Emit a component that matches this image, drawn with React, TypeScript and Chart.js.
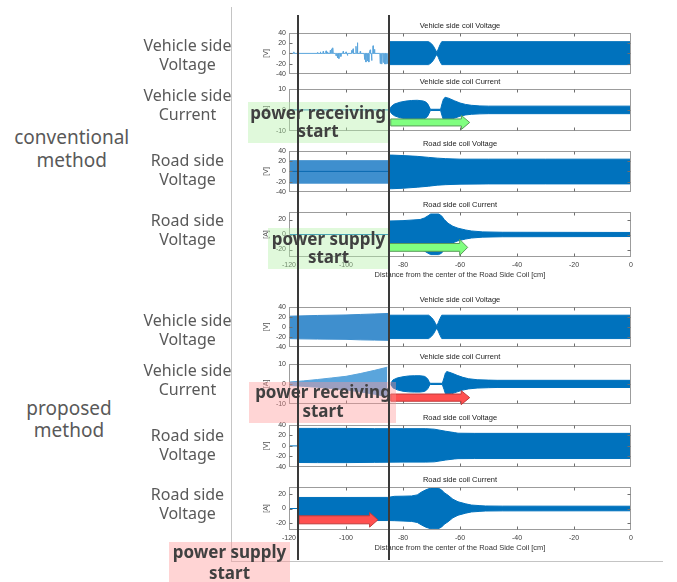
import React, { useEffect, useRef, useState } from 'react';
import { Chart, registerables } from 'chart.js';
Chart.register(...registerables);

// ---------- axes / ticks ----------
const xTicks = [-120, -100, -80, -60, -40, -20, 0];
const voltTicks = [-40, -20, 0, 20, 40];
const vehCurTicks = [-10, 0, 10];
const roadCurTicks = [-20, 0, 20];
const startMarkers = [-116.7, -85];
const xTitle = 'Distance from the center of the Road Side Coil [cm]';

// ---------- conventional: vehicle side voltage ----------
const cvVVSpikeX = [-118.3, -110, -109, -108, -107, -106.5, -105.5, -105, -104.6, -103.5, -103, -102.5, -101.8, -101, -100, -99.5, -98, -97.5, -96.5, -96, -95, -93.5, -93, -92.5, -92, -91.5, -91, -90.5, -90, -88, -87.5, -87, -86.5, -86, -85.5];
const cvVVSpikeY = [3, 2, 3, 4, 5, 3, 6, 9, 11, -5, -9, -10, -6, 4, 3, -4, 6, 9, 14, 21, 4, -12, -17, -15, -17, 7, -14, 15, 8, -20, -21, -18, -21, -21, -20];
const cvVVX = [-85, -71, -70, -69.3, -68.6, -68.1, -67.6, -67, -66.4, 0];
const cvVVUp = [23, 23, 19, 14, 7, 2, 9, 17, 23, 23];
const cvVVLo = [-22, -22, -18, -13, -6, -2, -8, -16, -22, -22];

// ---------- conventional: vehicle side current ----------
const cvVIFlatX = [-120, -84.7];
const cvVIFlatY = [0, 0];
const cvVIX = [-84.7, -84, -83, -81, -79, -77, -75, -73, -72, -71.3, -70.8, -70.4, -66.8, -66.3, -65.8, -65.2, -64, -62, -60, -58, -56, -53, -50, 0];
const cvVIUp = [0.3, 1.8, 2.8, 3.7, 4.2, 4.5, 4.6, 4.3, 3.8, 2.8, 1.5, 0.3, 0.3, 3, 5.2, 6, 5.6, 4.4, 3.3, 2.6, 2.2, 1.9, 1.8, 1.8];
const cvVILo = [-0.3, -1.8, -2.8, -3.8, -4.3, -4.6, -4.7, -4.4, -3.9, -2.9, -1.5, -0.3, -0.3, -2.8, -4.8, -5.3, -5, -4, -3, -2.4, -2.1, -1.9, -1.8, -1.8];

// ---------- conventional: road side voltage ----------
const cvRVCenterX = [-120, -85];
const cvRVCenterY = [0, 0];
const cvRVPreX = [-119.8, -85];
const cvRVPreUp = [21, 21];
const cvRVPreLo = [-23, -23];
const cvRVX = [-85, -84, -80, -75, -71, -68, -65, -60, -50, -30, 0];
const cvRVUp = [32, 32, 31, 29.5, 27.5, 26, 25, 24, 24, 24, 24];
const cvRVLo = [-34, -34, -33, -31, -29, -27, -26, -25, -24.5, -24.5, -24.5];

// ---------- conventional: road side current ----------
const cvRIFlatX = [-120, -85];
const cvRIFlatY = [0, 0];
const cvRIX = [-85, -80, -74, -72.5, -71.2, -70.3, -67.5, -66.5, -65.5, -64.2, -62.5, -60.7, -58, -56, -52, -45, 0];
const cvRIUp = [18, 18.5, 20, 22, 25, 27.3, 27.3, 25, 20, 15, 11, 8.4, 6, 4.7, 3.5, 3, 2.7];
const cvRILo = [-18, -18.5, -20, -22, -25, -26.8, -26.8, -25, -20, -15, -11, -8.4, -6, -4.7, -3.5, -3, -2.7];

// ---------- proposed: vehicle side voltage ----------
const pVVPreX = [-120, -116.7, -110, -100, -95, -90, -85];
const pVVPreUp = [21.5, 22, 23, 24, 25, 26, 27];
const pVVPreLo = [-23.5, -24, -24.5, -25, -26, -26.5, -27];
const pVVX = [-85, -71, -70, -69.3, -68.6, -68.1, -67.6, -67, -66.4, 0];
const pVVUp = [23.5, 23.5, 19, 14, 7, 2, 9, 17, 23.5, 23.5];
const pVVLo = [-23.5, -23.5, -19, -14, -7, -2, -9, -17, -23.5, -23.5];

// ---------- proposed: vehicle side current ----------
const pVIPreX = [-120, -115, -110, -105, -100, -95, -90, -85.5];
const pVIPreUp = [0.9, 1.5, 2.2, 3, 3.8, 5.2, 6.8, 8.4];
const pVIPreLo = [-0.8, -1.2, -1.7, -2.3, -3, -4, -5.2, -6.5];
const pVIX = [-84.3, -83.5, -82, -80, -78, -76, -74, -72.5, -71.8, -71.2, -70.8, -70.4, -66.2, -65.6, -65.1, -64.6, -63, -61, -59, -57, -54, -50, -47, 0];
const pVIUp = [0.3, 2, 3, 3.6, 4, 4.1, 4.1, 3.8, 3.2, 2.2, 1, 0.3, 0.3, 3, 5.5, 6.2, 5.5, 4.3, 3.3, 2.6, 2.1, 1.9, 1.8, 1.8];
const pVILo = [-0.3, -2, -3, -3.7, -4, -4.1, -4.1, -3.8, -3.2, -2.2, -1, -0.3, -0.3, -2.8, -5, -5.5, -5, -4, -3.1, -2.5, -2.1, -1.9, -1.8, -1.8];

// ---------- proposed: road side voltage ----------
const pRVFlatX = [-120, -116.7];
const pRVFlatY = [0, 0];
const pRVX = [-116.7, -110, -100, -90, -80, -72, -69, -65, -62, -60.7, -55, -40, 0];
const pRVUp = [33.5, 33.5, 33.5, 33, 33, 33, 32, 28, 25.5, 24.3, 24, 24, 24];
const pRVLo = [-31.8, -32, -32, -31.5, -31, -31, -30.5, -27, -25, -24.4, -24.2, -24.2, -24.2];

// ---------- proposed: road side current ----------
const pRIFlatX = [-120, -116.7];
const pRIFlatY = [0, 0];
const pRIX = [-116.7, -100, -85.3, -83, -80, -77, -75, -73.5, -72, -70.5, -69.5, -67.7, -66.5, -65.5, -64.2, -62.5, -60.7, -58, -56, -53, -51, -45, 0];
const pRIUp = [15.4, 15.4, 15.5, 17, 17.2, 17.5, 19, 23, 26, 28.3, 28.8, 28.6, 26, 22, 18.5, 13, 9.4, 6.5, 4.8, 4, 3.5, 3.3, 3.2];
const pRILo = [-16.5, -16.8, -16.8, -17, -17.5, -18, -19.5, -23, -26, -28, -28.3, -28.3, -26, -22, -18.5, -13, -9.4, -6.5, -4.8, -4, -3.5, -3.3, -3.2];

// ---------- styling ----------
const BLUE = '#0072BD';
const LIGHT_BLUE = '#3f8fce';
const PALE_BLUE = '#5aa5dc';
const CH_FONT = '"Liberation Sans", Arial, sans-serif';
const TXT_FONT = '"Noto Sans", "DejaVu Sans", sans-serif';
const CANVAS_LEFT = 250;
const CANVAS_W = 400;

type Band = { x: number[]; up: number[]; lo: number[]; color: string };
type Line = { x: number[]; y: number[]; color: string };
type Arrow = { x0: number; x1: number; y: number; sh: number; hh: number; hl: number; fill: string; stroke: string };
type Panel = {
  title: string; unit: string; min: number; max: number; ticks: number[];
  top: number; bottom: number; xLabels: boolean;
  bands: Band[]; lines: Line[]; arrows: Arrow[];
};

function spikeLine(xs: number[], ys: number[], x0: number, x1: number) {
  const px: number[] = [x0];
  const py: number[] = [0];
  xs.forEach((x, i) => {
    px.push(x - 0.12, x, x + 0.12);
    py.push(0, ys[i], 0);
  });
  px.push(x1);
  py.push(0);
  return { x: px, y: py };
}
const cvVVSpikes = spikeLine(cvVVSpikeX, cvVVSpikeY, -120, -85);

const GREEN_ARROW = { fill: '#80ff80', stroke: '#5a9a5a' };
const RED_ARROW = { fill: '#ff5050', stroke: '#c03a3a' };

const panels: Panel[] = [
  {
    title: 'Vehicle side coil Voltage', unit: '[V]', min: -40, max: 40, ticks: voltTicks, top: 33, bottom: 75, xLabels: false,
    lines: [{ x: cvVVSpikes.x, y: cvVVSpikes.y, color: PALE_BLUE }],
    bands: [{ x: cvVVX, up: cvVVUp, lo: cvVVLo, color: BLUE }], arrows: [],
  },
  {
    title: 'Vehicle side coil Current', unit: '[A]', min: -10, max: 10, ticks: vehCurTicks, top: 89, bottom: 132, xLabels: false,
    lines: [{ x: cvVIFlatX, y: cvVIFlatY, color: BLUE }],
    bands: [{ x: cvVIX, up: cvVIUp, lo: cvVILo, color: BLUE }],
    arrows: [{ x0: -84.3, x1: -56.6, y: -6, sh: 3.5, hh: 7, hl: 8.3, ...GREEN_ARROW }],
  },
  {
    title: 'Road side coil Voltage', unit: '[V]', min: -40, max: 40, ticks: voltTicks, top: 151, bottom: 193, xLabels: false,
    lines: [{ x: cvRVCenterX, y: cvRVCenterY, color: '#0a68b0' }],
    bands: [
      { x: cvRVPreX, up: cvRVPreUp, lo: cvRVPreLo, color: LIGHT_BLUE },
      { x: cvRVX, up: cvRVUp, lo: cvRVLo, color: BLUE },
    ], arrows: [],
  },
  {
    title: 'Road side coil Current', unit: '[A]', min: -30, max: 30, ticks: roadCurTicks, top: 212, bottom: 257, xLabels: true,
    lines: [{ x: cvRIFlatX, y: cvRIFlatY, color: BLUE }],
    bands: [{ x: cvRIX, up: cvRIUp, lo: cvRILo, color: BLUE }],
    arrows: [{ x0: -85, x1: -57.3, y: -17.2, sh: 3.9, hh: 8, hl: 8, ...GREEN_ARROW }],
  },
  {
    title: 'Vehicle side coil Voltage', unit: '[V]', min: -40, max: 40, ticks: voltTicks, top: 307, bottom: 348, xLabels: false,
    lines: [],
    bands: [
      { x: pVVPreX, up: pVVPreUp, lo: pVVPreLo, color: LIGHT_BLUE },
      { x: pVVX, up: pVVUp, lo: pVVLo, color: BLUE },
    ], arrows: [],
  },
  {
    title: 'Vehicle side coil Current', unit: '[A]', min: -10, max: 10, ticks: vehCurTicks, top: 364, bottom: 405, xLabels: false,
    lines: [],
    bands: [
      { x: pVIPreX, up: pVIPreUp, lo: pVIPreLo, color: PALE_BLUE },
      { x: pVIX, up: pVIUp, lo: pVILo, color: BLUE },
    ],
    arrows: [{ x0: -84.3, x1: -56.6, y: -6.9, sh: 3.6, hh: 7, hl: 8.5, ...RED_ARROW }],
  },
  {
    title: 'Road side coil Voltage', unit: '[V]', min: -40, max: 40, ticks: voltTicks, top: 425, bottom: 468, xLabels: false,
    lines: [{ x: pRVFlatX, y: pRVFlatY, color: BLUE }],
    bands: [{ x: pRVX, up: pRVUp, lo: pRVLo, color: BLUE }], arrows: [],
  },
  {
    title: 'Road side coil Current', unit: '[A]', min: -30, max: 30, ticks: roadCurTicks, top: 487, bottom: 530, xLabels: true,
    lines: [{ x: pRIFlatX, y: pRIFlatY, color: BLUE }],
    bands: [{ x: pRIX, up: pRIUp, lo: pRILo, color: BLUE }],
    arrows: [{ x0: -116.5, x1: -88.8, y: -15.8, sh: 4, hh: 7.3, hl: 8.3, ...RED_ARROW }],
  },
];

const TITLE_H = 11;
function canvasTop(p: Panel) { return p.top - TITLE_H; }
function canvasH(p: Panel) { return p.bottom - canvasTop(p) + (p.xLabels ? 24 : 6); }

function buildDatasets(p: Panel) {
  const ds: any[] = [];
  for (const l of p.lines) {
    ds.push({ data: l.x.map((x, i) => ({ x, y: l.y[i] })), borderColor: l.color, borderWidth: 1, fill: false, pointRadius: 0, tension: 0 });
  }
  for (const b of p.bands) {
    ds.push({ data: b.x.map((x, i) => ({ x, y: b.up[i] })), borderColor: b.color, backgroundColor: b.color, borderWidth: 1, fill: '+1', pointRadius: 0, tension: 0 });
    ds.push({ data: b.x.map((x, i) => ({ x, y: b.lo[i] })), borderColor: b.color, borderWidth: 1, fill: false, pointRadius: 0, tension: 0 });
  }
  return ds;
}

const framePlugin = {
  id: 'frame',
  afterDraw(chart: any, _args: any, opts: any) {
    const { ctx, chartArea: a, scales } = chart;
    ctx.save();
    const L = Math.round(a.left) + 0.5, R = Math.round(a.right) - 0.5;
    const T = Math.round(a.top) + 0.5, B = Math.round(a.bottom) - 0.5;
    ctx.strokeStyle = '#9c9c9c';
    ctx.lineWidth = 1;
    ctx.strokeRect(L, T, R - L, B - T);
    ctx.strokeStyle = '#6e6e6e';
    ctx.beginPath();
    for (const v of xTicks) {
      const px = Math.round(scales.x.getPixelForValue(v)) + 0.5;
      if (px <= L + 1 || px >= R - 1) continue;
      ctx.moveTo(px, T); ctx.lineTo(px, T + 3);
      ctx.moveTo(px, B); ctx.lineTo(px, B - 3);
    }
    for (const t of scales.y.ticks) {
      const py = Math.round(scales.y.getPixelForValue(t.value)) + 0.5;
      if (py <= T + 1 || py >= B - 1) continue;
      ctx.moveTo(L, py); ctx.lineTo(L + 3, py);
      ctx.moveTo(R, py); ctx.lineTo(R - 3, py);
    }
    ctx.stroke();
    for (const ar of (opts && opts.arrows) || []) {
      const x0 = scales.x.getPixelForValue(ar.x0);
      const x1 = scales.x.getPixelForValue(ar.x1);
      const yc = scales.y.getPixelForValue(ar.y);
      const hb = x1 - ar.hl;
      ctx.beginPath();
      ctx.moveTo(x0, yc - ar.sh);
      ctx.lineTo(hb, yc - ar.sh);
      ctx.lineTo(hb, yc - ar.hh);
      ctx.lineTo(x1, yc);
      ctx.lineTo(hb, yc + ar.hh);
      ctx.lineTo(hb, yc + ar.sh);
      ctx.lineTo(x0, yc + ar.sh);
      ctx.closePath();
      ctx.fillStyle = ar.fill;
      ctx.fill();
      ctx.strokeStyle = ar.stroke;
      ctx.lineWidth = 1;
      ctx.stroke();
    }
    ctx.restore();
  },
};

function makeConfig(p: Panel): any {
  const tickFont = { family: CH_FONT, size: 7, lineHeight: 1.2 };
  return {
    type: 'line',
    data: { datasets: buildDatasets(p) },
    options: {
      animation: false,
      responsive: false,
      maintainAspectRatio: false,
      events: [],
      layout: { padding: { left: 0, right: 19, top: 0, bottom: p.xLabels ? 0 : 6 } },
      plugins: {
        legend: { display: false },
        tooltip: { enabled: false },
        title: {
          display: true, text: p.title, fullSize: false, color: '#222',
          font: { family: CH_FONT, size: 7.5, lineHeight: 1, weight: 'normal' },
          padding: { top: 0, bottom: 3.5 },
        },
        frame: { arrows: p.arrows },
      },
      scales: {
        x: {
          type: 'linear', min: -120, max: 0, display: p.xLabels,
          grid: { display: false, drawTicks: false },
          border: { display: false },
          ticks: { padding: 4, color: '#404040', font: tickFont, maxRotation: 0, autoSkip: false },
          afterBuildTicks: (s: any) => { s.ticks = xTicks.map((v) => ({ value: v })); },
          afterFit: (s: any) => { if (p.xLabels) s.height = 24; },
          title: { display: true, text: xTitle, color: '#333', font: { family: CH_FONT, size: 7.5, lineHeight: 1.2 }, padding: { top: 0, bottom: 2 } },
        },
        y: {
          type: 'linear', min: p.min, max: p.max,
          grid: { display: false, drawTicks: false },
          border: { display: false },
          ticks: { padding: 3, color: '#404040', font: tickFont, autoSkip: false },
          afterBuildTicks: (s: any) => { s.ticks = p.ticks.map((v) => ({ value: v })); },
          afterFit: (s: any) => { s.width = 39; },
          title: { display: true, text: p.unit, color: '#555', font: { family: CH_FONT, size: 7, lineHeight: 1.2 }, padding: { top: 12, bottom: 0 } },
        },
      },
    },
    plugins: [framePlugin],
  };
}

type TextBlock = { lines: string[]; cx: number; top: number; lh: number; size: number; bold?: boolean; color: string };
const sideLabels: TextBlock[] = [
  { lines: ['conventional', 'method'], cx: 71.7, top: 126, lh: 23.3, size: 19, color: '#595959' },
  { lines: ['proposed', 'method'], cx: 69, top: 397.3, lh: 22, size: 19, color: '#595959' },
  { lines: ['Vehicle side', 'Voltage'], cx: 187.5, top: 35.5, lh: 19, size: 16, color: '#595959' },
  { lines: ['Vehicle side', 'Current'], cx: 187.5, top: 85.5, lh: 19, size: 16, color: '#595959' },
  { lines: ['Road side', 'Voltage'], cx: 187.5, top: 151, lh: 19, size: 16, color: '#595959' },
  { lines: ['Road side', 'Voltage'], cx: 187.5, top: 210.5, lh: 19, size: 16, color: '#595959' },
  { lines: ['Vehicle side', 'Voltage'], cx: 187.5, top: 311, lh: 19, size: 16, color: '#595959' },
  { lines: ['Vehicle side', 'Current'], cx: 187.5, top: 361, lh: 19, size: 16, color: '#595959' },
  { lines: ['Road side', 'Voltage'], cx: 187.5, top: 425.5, lh: 19, size: 16, color: '#595959' },
  { lines: ['Road side', 'Voltage'], cx: 187.5, top: 485, lh: 19, size: 16, color: '#595959' },
];
type Note = { left: number; top: number; w: number; h: number; bg: string; text: TextBlock };
const notes: Note[] = [
  { left: 248, top: 102.3, w: 141, h: 41, bg: 'rgba(180,240,170,0.42)', text: { lines: ['power receiving', 'start'], cx: 318, top: 103.5, lh: 18.3, size: 17, bold: true, color: '#404040' } },
  { left: 267.7, top: 228.3, w: 121.3, h: 41, bg: 'rgba(180,240,170,0.42)', text: { lines: ['power supply', 'start'], cx: 328.5, top: 230.1, lh: 17.7, size: 17, bold: true, color: '#404040' } },
  { left: 249, top: 382.3, w: 146.7, h: 41, bg: 'rgba(255,150,150,0.4)', text: { lines: ['power receiving', 'start'], cx: 323, top: 383, lh: 18.7, size: 17, bold: true, color: '#404040' } },
  { left: 169, top: 541.7, w: 121, h: 41, bg: 'rgba(255,160,160,0.45)', text: { lines: ['power supply', 'start'], cx: 229.5, top: 542.1, lh: 20.4, size: 17, bold: true, color: '#404040' } },
];

function Text({ b }: { b: TextBlock }) {
  return (
    <div style={{
      position: 'absolute', left: b.cx - 120, width: 240, top: b.top, textAlign: 'center',
      fontFamily: TXT_FONT, fontSize: b.size, lineHeight: `${b.lh}px`, color: b.color,
      fontWeight: b.bold ? 700 : 400, whiteSpace: 'nowrap',
    }}>
      {b.lines.map((l, i) => <div key={i}>{l}</div>)}
    </div>
  );
}

export default function App() {
  const refs = useRef<(HTMLCanvasElement | null)[]>([]);
  const [markerPx, setMarkerPx] = useState<number[]>([]);
  useEffect(() => {
    const charts = panels.map((p, i) => new Chart(refs.current[i] as HTMLCanvasElement, makeConfig(p)));
    const xs = charts[0].scales.x;
    setMarkerPx(startMarkers.map((v) => CANVAS_LEFT + xs.getPixelForValue(v)));
    return () => charts.forEach((c) => c.destroy());
  }, []);
  return (
    <div style={{ position: 'absolute', left: 0, top: 0, width: 677, height: 582, overflow: 'hidden', background: '#fff' }}>
      {/* frame lines */}
      <div style={{ position: 'absolute', left: 231, top: 7, width: 1, height: 554, background: '#c4c4c4' }} />
      <div style={{ position: 'absolute', left: 231, top: 561, width: 432, height: 1, background: '#c4c4c4' }} />
      {panels.map((p, i) => (
        <canvas
          key={i}
          ref={(el) => { refs.current[i] = el; }}
          width={CANVAS_W}
          height={canvasH(p)}
          style={{ position: 'absolute', left: CANVAS_LEFT, top: canvasTop(p), width: CANVAS_W, height: canvasH(p) }}
        />
      ))}
      {sideLabels.map((b, i) => <Text key={'s' + i} b={b} />)}
      {notes.map((n, i) => (
        <React.Fragment key={'n' + i}>
          <div style={{ position: 'absolute', left: n.left, top: n.top, width: n.w, height: n.h, background: n.bg }} />
          <Text b={n.text} />
        </React.Fragment>
      ))}
      {markerPx.map((x, i) => (
        <div key={'m' + i} style={{ position: 'absolute', left: x - 1, top: 15, width: 2, height: 545, background: '#3a3a3a' }} />
      ))}
    </div>
  );
}
